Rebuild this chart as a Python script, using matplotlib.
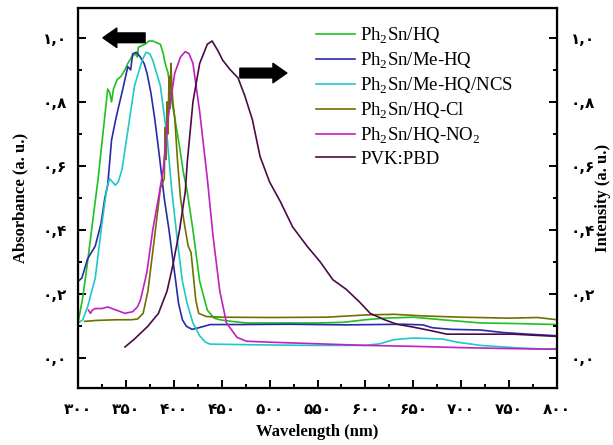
import matplotlib
matplotlib.use("Agg")
import matplotlib.pyplot as plt
from matplotlib.ticker import MultipleLocator

plt.rcParams['mathtext.fontset'] = 'custom'
plt.rcParams['mathtext.rm'] = 'Liberation Serif'

# --- data ---
hq_w = [300, 305, 310, 315, 321, 326, 331, 333, 335, 337, 341, 345, 349, 352, 356, 360, 362, 363, 366, 370,
        374, 378, 382, 386, 389, 391, 394, 398, 401, 406, 410, 414, 420, 427, 435, 442, 448, 460, 476, 500,
        550, 577, 600, 620, 650, 680, 720, 760, 800]
hq_y = [0.11, 0.19, 0.30, 0.42, 0.56, 0.70, 0.84, 0.83, 0.80, 0.84, 0.87, 0.88, 0.90, 0.92, 0.94, 0.95, 0.94, 0.97, 0.975, 0.98,
        0.99, 0.99, 0.985, 0.98, 0.95, 0.92, 0.89, 0.80, 0.75, 0.66, 0.58, 0.52, 0.40, 0.24, 0.15, 0.125, 0.12, 0.115, 0.11, 0.11,
        0.11, 0.112, 0.12, 0.125, 0.128, 0.12, 0.11, 0.108, 0.105]

mehq_w = [300, 304, 310, 318, 324, 328, 331, 335, 339, 342, 346, 349, 352, 355, 357, 361, 365, 369, 372, 376,
          380, 385, 390, 395, 398, 402, 405, 409, 413, 419, 426, 432, 438, 470, 520, 580, 640, 660, 670, 690,
          720, 744, 770, 800]
mehq_y = [0.24, 0.25, 0.31, 0.35, 0.42, 0.50, 0.54, 0.68, 0.74, 0.78, 0.83, 0.87, 0.91, 0.90, 0.95, 0.955, 0.94, 0.92, 0.89, 0.83,
          0.75, 0.63, 0.50, 0.40, 0.33, 0.24, 0.17, 0.12, 0.10, 0.09, 0.095, 0.10, 0.105, 0.105, 0.106, 0.104, 0.106, 0.104, 0.095, 0.09,
          0.088, 0.08, 0.075, 0.07]

ncs_w = [300, 305, 310, 318, 325, 330, 333, 336, 339, 342, 346, 352, 359, 367, 371, 375, 378, 386, 393, 398,
         404, 409, 414, 420, 427, 433, 438, 480, 540, 600, 615, 630, 650, 680, 696, 720, 760, 790, 800]
ncs_y = [0.11, 0.12, 0.16, 0.25, 0.42, 0.53, 0.56, 0.55, 0.54, 0.55, 0.59, 0.71, 0.85, 0.93, 0.955, 0.95, 0.93, 0.85, 0.69, 0.52,
         0.36, 0.24, 0.17, 0.11, 0.07, 0.05, 0.044, 0.042, 0.04, 0.04, 0.045, 0.058, 0.063, 0.06, 0.05, 0.04, 0.032, 0.028, 0.03]

cl_w = [307, 320, 340, 355, 362, 368, 373, 380, 386, 390, 391, 392, 393, 394, 395, 396, 397, 398, 399, 401,
        404, 407, 411, 415, 418, 420, 423, 426, 434, 450, 500, 560, 600, 630, 660, 700, 750, 780, 800]
cl_y = [0.115, 0.118, 0.12, 0.12, 0.122, 0.14, 0.21, 0.38, 0.53, 0.56, 0.72, 0.62, 0.80, 0.70, 0.88, 0.78, 0.92, 0.85, 0.80, 0.75,
        0.61, 0.50, 0.42, 0.35, 0.33, 0.27, 0.18, 0.14, 0.13, 0.128, 0.127, 0.128, 0.135, 0.137, 0.132, 0.128, 0.125, 0.127, 0.12]

no2_w = [311, 313, 315, 318, 325, 331, 340, 349, 357, 362, 365, 369, 372, 378, 384, 389, 394, 401, 407, 412,
         416, 420, 427, 435, 441, 448, 455, 466, 476, 500, 550, 600, 650, 700, 750, 800]
no2_y = [0.15, 0.14, 0.15, 0.155, 0.155, 0.16, 0.15, 0.14, 0.145, 0.16, 0.18, 0.23, 0.27, 0.40, 0.50, 0.59, 0.75, 0.89, 0.94, 0.957,
         0.95, 0.92, 0.77, 0.56, 0.38, 0.21, 0.11, 0.065, 0.053, 0.05, 0.045, 0.04, 0.037, 0.033, 0.03, 0.028]

pvk_w = [349, 359, 373, 384, 393, 399, 406, 412, 414, 420, 427, 435, 440, 446, 451, 459, 467, 474, 482, 490,
         500, 511, 524, 539, 553, 566, 580, 594, 605, 620, 633, 650, 670, 685, 720, 754, 800]
pvk_y = [0.035, 0.06, 0.10, 0.14, 0.21, 0.29, 0.40, 0.52, 0.61, 0.80, 0.92, 0.98, 0.99, 0.96, 0.93, 0.90, 0.875, 0.82, 0.745, 0.63,
         0.55, 0.49, 0.41, 0.35, 0.30, 0.245, 0.215, 0.175, 0.14, 0.12, 0.106, 0.097, 0.085, 0.075, 0.075, 0.075, 0.068]

x_ticks = [300, 350, 400, 450, 500, 550, 600, 650, 700, 750, 800]
x_labels = ['۳۰۰', '۳۵۰', '۴۰۰', '۴۵۰', '۵۰۰', '۵۵۰', '۶۰۰', '۶۵۰', '۷۰۰', '۷۵۰', '۸۰۰']
y_ticks = [0.0, 0.2, 0.4, 0.6, 0.8, 1.0]
y_labels = ['۰,۰', '۰,۲', '۰,۴', '۰,۶', '۰,۸', '۱,۰']

series = [
    (hq_w, hq_y, '#20c020', r'Ph$_\mathregular{2}$Sn/HQ'),
    (mehq_w, mehq_y, '#2a2aa8', r'Ph$_\mathregular{2}$Sn/Me-HQ'),
    (ncs_w, ncs_y, '#20c8c8', r'Ph$_\mathregular{2}$Sn/Me-HQ/NCS'),
    (cl_w, cl_y, '#707000', r'Ph$_\mathregular{2}$Sn/HQ-Cl'),
    (no2_w, no2_y, '#c020c0', r'Ph$_\mathregular{2}$Sn/HQ-NO$_\mathregular{2}$'),
    (pvk_w, pvk_y, '#4a0c48', 'PVK:PBD'),
]

fig = plt.figure(figsize=(6.13, 4.45), dpi=100)
ax = fig.add_axes([78 / 613, 1 - 388 / 445, 479 / 613, 380 / 445])

for w, y, c, lab in series:
    ax.plot(w, y, color=c, lw=1.2, label=lab)

ax.set_xlim(300, 800)
ax.set_ylim(-0.093, 1.093)

tick_font = dict(family='DejaVu Sans', weight='bold', size=11)
ax.set_xticks(x_ticks)
ax.set_xticklabels(x_labels, fontdict=tick_font)
ax.set_yticks(y_ticks)
ax.set_yticklabels(y_labels, fontdict=tick_font)
ax.xaxis.set_minor_locator(MultipleLocator(25))
ax.yaxis.set_minor_locator(MultipleLocator(0.1))
ax.tick_params(which='both', direction='in', top=False, right=False, width=1.4)
ax.tick_params(which='major', length=6, pad=8)
ax.tick_params(axis='x', which='major', pad=10)
ax.tick_params(which='minor', length=3)
for s in ax.spines.values():
    s.set_linewidth(1.6)

ax2 = ax.twinx()
ax2.set_ylim(ax.get_ylim())
ax2.set_yticks(y_ticks)
ax2.set_yticklabels(y_labels, fontdict=tick_font)
ax2.yaxis.set_minor_locator(MultipleLocator(0.1))
ax2.tick_params(which='both', direction='in', width=1.4)
ax2.tick_params(which='major', length=6, pad=10)
ax2.tick_params(which='minor', length=3)

lab_font = dict(family='Liberation Serif', weight='bold', size=12)
ax.set_xlabel('Wavelength (nm)', fontdict=lab_font)
ax.set_ylabel('Absorbance (a. u.)', fontdict=lab_font)
ax2.set_ylabel('Intensity (a. u.)', fontdict=lab_font)
ax.xaxis.set_label_coords(0.5, -0.095)
ax.yaxis.set_label_coords(-0.104, 0.5)
ax2.yaxis.set_label_coords(1.08, 0.5)

ax.legend(loc='upper left', bbox_to_anchor=(308 / 613, 1 - 18 / 445), bbox_transform=fig.transFigure,
          frameon=False, prop=dict(family='Liberation Serif', size=13.5),
          handlelength=2.1, handletextpad=0.3, labelspacing=0.25, borderaxespad=0)

arrow = dict(arrowstyle='simple,head_width=1.4,head_length=1.0,tail_width=0.7',
             color='black', mutation_scale=10, shrinkA=0, shrinkB=0)
ax.annotate('', xy=(326, 1.0), xytext=(370, 1.0), arrowprops=arrow)
ax.annotate('', xy=(518, 0.89), xytext=(469, 0.89), arrowprops=arrow)

fig.savefig('out.png', dpi=100)
